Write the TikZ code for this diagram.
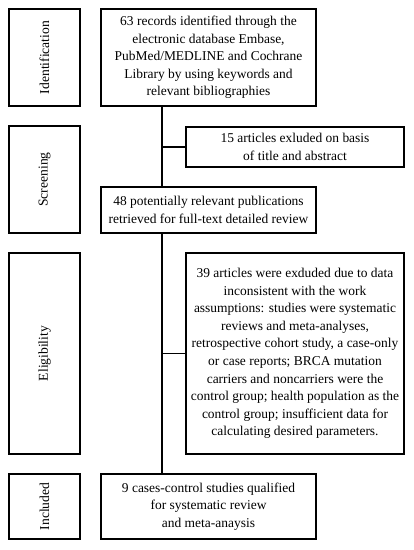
\documentclass[tikz,border=0pt]{standalone}
\usepackage{fontspec}
\setmainfont{Liberation Serif}
\tikzset{
  stage/.style={draw, line width=0.8pt, minimum width=53.25pt, inner sep=0pt},
  stagetext/.style={rotate=90, font=\fontsize{10.2}{12}\selectfont},
  flowbox/.style={draw, line width=0.8pt, align=center, inner sep=0pt,
    font=\fontsize{10.1}{13.2}\selectfont},
}
\begin{document}
\begin{tikzpicture}[x=0.75pt, y=-0.75pt, line width=0.8pt]
\useasboundingbox (0,0) rectangle (414,550);
% stage labels on the left
\node[stage, minimum height=72.75pt] (ident) at (44.5,57.5) {};
\node[stagetext] at (ident) {Identification};
\node[stage, minimum height=80.25pt] (screen) at (44.5,179.5) {};
\node[stagetext] at (screen) {Screening};
\node[stage, minimum height=150.75pt] (elig) at (44.5,353.5) {};
\node[stagetext] at (elig) {Eligibility};
\node[stage, minimum height=48.75pt] (incl) at (44.5,506.5) {};
\node[stagetext] at (incl) {Included};
% main flow
\node[flowbox, minimum width=161.25pt, minimum height=72.75pt] (records) at (208.5,57.5)
  {63 records identified through the\\ electronic database Embase,\\ PubMed/MEDLINE and Cochrane\\ Library by using keywords and\\ relevant bibliographies};
\node[flowbox, minimum width=163.5pt, minimum height=30pt] (excl1) at (295,147)
  {15 articles exluded on basis\\ of title and abstract};
\node[flowbox, minimum width=161.25pt, minimum height=34.5pt] (fulltext) at (208.5,210)
  {48 potentially relevant publications\\ retrieved for full-text detailed review};
\node[flowbox, minimum width=163.5pt, minimum height=150.75pt] (excl2) at (295,353.5)
  {39 articles were exduded due to data\\ inconsistent with the work\\ assumptions: studies were systematic\\ reviews and meta-analyses,\\ retrospective cohort study, a case-only\\ or case reports; BRCA mutation\\ carriers and noncarriers were the\\ control group; health population as the\\ control group; insufficient data for\\ calculating desired parameters.};
\node[flowbox, minimum width=161.25pt, minimum height=48.75pt] (studies) at (208.5,506.5)
  {9 cases-control studies qualified\\ for systematic review\\ and meta-anaysis};
% connectors
\coordinate (trunk) at (162,0);
\draw (trunk |- records.south) -- (trunk |- fulltext.north);
\draw (trunk |- excl1.west) -- (excl1.west);
\draw (trunk |- fulltext.south) -- (trunk |- studies.north);
\draw (trunk |- excl2.west) -- (excl2.west);
\end{tikzpicture}
\end{document}
